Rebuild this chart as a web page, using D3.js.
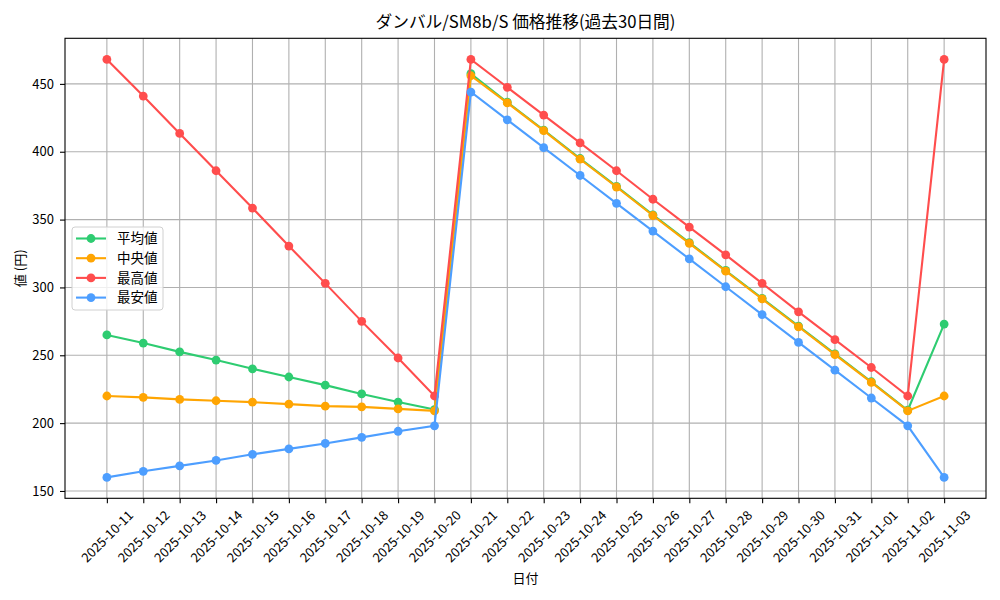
<!DOCTYPE html>
<html>
<head>
<meta charset="utf-8">
<script src="https://cdn.jsdelivr.net/npm/d3@7"></script>
<style>
  body { margin: 0; background: #fff; }
  svg text { font-family: "Noto Sans CJK JP", "DejaVu Sans", sans-serif; fill: #000; }
</style>
</head>
<body>
<div id="chart"></div>
<script>
var dates = ["2025-10-11","2025-10-12","2025-10-13","2025-10-14","2025-10-15","2025-10-16",
  "2025-10-17","2025-10-18","2025-10-19","2025-10-20","2025-10-21","2025-10-22","2025-10-23",
  "2025-10-24","2025-10-25","2025-10-26","2025-10-27","2025-10-28","2025-10-29","2025-10-30",
  "2025-10-31","2025-11-01","2025-11-02","2025-11-03"];

var avgVals = [265, 259, 252.5, 246.5, 240, 234, 228, 221.5, 215.5, 210,
  457.5, 436.5, 416, 395, 374.5, 353.5, 333, 312.5, 292, 271.5, 251, 230.5, 209.5, 273];
var medianVals = [220, 219, 217.5, 216.5, 215.5, 214, 212.5, 212, 210.5, 209,
  456, 436, 415.5, 394.5, 374, 353, 332.5, 312, 291.5, 271, 250.5, 230, 209, 220];
var maxVals = [468, 441, 413.5, 386, 358.5, 330.5, 303, 275, 248, 220,
  468, 447.5, 427, 406.5, 386, 365, 344.5, 324, 303, 282, 261.5, 241, 220, 468];
var minVals = [160, 164.5, 168.5, 172.5, 177, 181, 185, 189.5, 194, 198,
  444, 423.5, 403, 382.5, 362, 341.5, 321, 300.5, 280, 259.5, 239, 218.5, 198, 160];

var yTicks = [150, 200, 250, 300, 350, 400, 450];

var seriesNames = ["平均値", "中央値", "最高値", "最安値"];
var seriesColors = ["#2ecc71", "#ffa502", "#ff4d4d", "#4d9eff"];
var series = [avgVals, medianVals, maxVals, minVals];

var W = 1000, H = 600;
var pl = 65, pr = 986, pt = 38.3, pb = 498.3;
var fs = 13;

var svg = d3.select("#chart").append("svg")
  .attr("width", W).attr("height", H);

var x = d3.scalePoint()
  .domain(dates)
  .range([pl, pr])
  .padding(1.15);

var y = d3.scaleLinear()
  .domain([144.6, 483.6])
  .range([pb, pt]);

// grid
svg.append("g").selectAll("line")
  .data(dates).enter().append("line")
  .attr("x1", d => x(d)).attr("x2", d => x(d))
  .attr("y1", pt).attr("y2", pb)
  .attr("stroke", "#b0b0b0").attr("stroke-width", 1.1);
svg.append("g").selectAll("line")
  .data(yTicks).enter().append("line")
  .attr("x1", pl).attr("x2", pr)
  .attr("y1", d => y(d)).attr("y2", d => y(d))
  .attr("stroke", "#b0b0b0").attr("stroke-width", 1.1);

// axes
var xAxis = svg.append("g")
  .attr("transform", "translate(0," + pb + ")")
  .call(d3.axisBottom(x).tickSize(5).tickPadding(5));
xAxis.select(".domain").remove();
xAxis.selectAll(".tick line").attr("stroke", "#000").attr("stroke-width", 1.1);
xAxis.selectAll(".tick text")
  .style("font-size", fs + "px")
  .each(function() {
    var L = this.getComputedTextLength();
    var half = (L + fs) * Math.SQRT1_2 / 2;
    d3.select(this)
      .attr("y", 0).attr("dy", "0.35em")
      .attr("text-anchor", "middle")
      .attr("transform", "translate(0," + (10 + half) + ") rotate(-45)");
  });

var yAxis = svg.append("g")
  .attr("transform", "translate(" + pl + ",0)")
  .call(d3.axisLeft(y).tickValues(yTicks).tickSize(5).tickPadding(6));
yAxis.select(".domain").remove();
yAxis.selectAll(".tick line").attr("stroke", "#000").attr("stroke-width", 1.1);
yAxis.selectAll(".tick text").style("font-size", fs + "px");

// lines and markers
var line = d3.line()
  .x((d, i) => x(dates[i]))
  .y(d => y(d));

series.forEach(function(vals, k) {
  var g = svg.append("g");
  g.append("path")
    .datum(vals)
    .attr("d", line)
    .attr("fill", "none")
    .attr("stroke", seriesColors[k])
    .attr("stroke-width", 2.1);
  g.selectAll("circle")
    .data(vals).enter().append("circle")
    .attr("cx", (d, i) => x(dates[i]))
    .attr("cy", d => y(d))
    .attr("r", 4.4)
    .attr("fill", seriesColors[k]);
});

// frame
svg.append("rect")
  .attr("x", pl).attr("y", pt)
  .attr("width", pr - pl).attr("height", pb - pt)
  .attr("fill", "none").attr("stroke", "#000").attr("stroke-width", 1.1);

// titles
svg.append("text")
  .attr("x", (pl + pr) / 2).attr("y", 28)
  .attr("text-anchor", "middle")
  .style("font-size", "16.7px")
  .text("ダンバル/SM8b/S 価格推移(過去30日間)");

svg.append("text")
  .attr("x", (pl + pr) / 2).attr("y", 583)
  .attr("text-anchor", "middle")
  .style("font-size", fs + "px")
  .text("日付");

svg.append("text")
  .attr("transform", "translate(25," + ((pt + pb) / 2) + ") rotate(-90)")
  .attr("text-anchor", "middle")
  .style("font-size", fs + "px")
  .text("値 (円)");

// legend
var lg = svg.append("g").attr("transform", "translate(72,227)");
lg.append("rect")
  .attr("width", 91).attr("height", 83)
  .attr("rx", 3)
  .attr("fill", "#fff").attr("fill-opacity", 0.8)
  .attr("stroke", "#d0d0d0");
var items = lg.selectAll("g")
  .data(seriesNames).enter().append("g")
  .attr("transform", (d, i) => "translate(0," + (11.5 + i * 19.7) + ")");
items.append("line")
  .attr("x1", 4).attr("x2", 34)
  .attr("stroke", (d, i) => seriesColors[i]).attr("stroke-width", 2.1);
items.append("circle")
  .attr("cx", 19).attr("r", 4.4)
  .attr("fill", (d, i) => seriesColors[i]);
items.append("text")
  .attr("x", 45).attr("dy", "0.35em")
  .style("font-size", "13.5px")
  .text(d => d);
</script>
</body>
</html>
